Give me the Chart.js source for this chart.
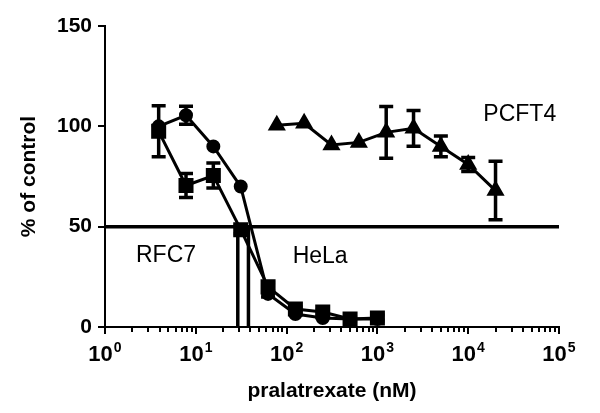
<!DOCTYPE html>
<html lang="en">
<head>
    <meta charset="UTF-8">
    <title>Pralatrexate dose response</title>
    <style>
        body { margin: 0; background: #fff; }
    </style>
</head>
<body>
    <canvas id="doseChart" width="600" height="413"></canvas>
    <script src="https://cdn.jsdelivr.net/npm/chart.js"></script>

    <script>
        // concentrations (nM)
        const concLow = [3.9, 7.8, 15.6, 31.25, 62.5, 125, 250, 500, 1000];
        const concPCFT = [78, 156, 312, 625, 1250, 2500, 5000, 10000, 20000];

        // % of control
        const rfc7Values = [97.5, 70.5, 75.5, 48.5, 20, 9, 7.5, 4, 4.5];
        const rfc7Err = [12.7, 6, 6.2, 2, 2, 1, 1, 1, 1.5];
        const helaValues = [100, 105.5, 90, 70, 16.5, 6.5, 4.5, 4, 4];
        const helaErr = [0, 4.5, 0, 0, 1.5, 0, 0, 0, 0];
        const pcftValues = [100.6, 101.5, 90.7, 92, 97, 99, 90, 81, 68];
        const pcftErr = [0, 0, 0, 0, 12.9, 8.9, 5.2, 3.5, 14.6];

        const halfLevel = 50;
        const ic50s = [29, 38];
        const yTicks = [0, 50, 100, 150];
        const decades = [0, 1, 2, 3, 4, 5];

        // where the series names sit (data coords)
        const labels = [
            { text: 'RFC7', x: 4.7, y: 35.5 },
            { text: 'HeLa', x: 234, y: 35 },
            { text: 'PCFT4', x: 37000, y: 105.6 }
        ];

        function pts(xs, ys) {
            return xs.map((x, i) => ({ x: x, y: ys[i] }));
        }

        const FONT = '"Liberation Sans", Arial, sans-serif';

        // error bars, decade labels, minor ticks, annotations
        const extras = {
            id: 'extras',
            afterDatasetsDraw(chart) {
                const ctx = chart.ctx;
                const xs = chart.scales.x, ys = chart.scales.y;
                ctx.save();
                ctx.strokeStyle = '#000';
                ctx.lineWidth = 3.5;
                const groups = [[concLow, rfc7Values, rfc7Err], [concLow, helaValues, helaErr], [concPCFT, pcftValues, pcftErr]];
                groups.forEach(g => {
                    g[0].forEach((c, i) => {
                        const e = g[2][i];
                        if (!e) return;
                        const px = xs.getPixelForValue(c);
                        const top = ys.getPixelForValue(g[1][i] + e);
                        const bot = ys.getPixelForValue(g[1][i] - e);
                        ctx.beginPath();
                        ctx.moveTo(px, top); ctx.lineTo(px, bot);
                        ctx.moveTo(px - 7, top); ctx.lineTo(px + 7, top);
                        ctx.moveTo(px - 7, bot); ctx.lineTo(px + 7, bot);
                        ctx.stroke();
                    });
                });
                ctx.restore();
            },
            afterDraw(chart) {
                const ctx = chart.ctx;
                const xs = chart.scales.x, ys = chart.scales.y;
                const bottom = chart.chartArea.bottom;
                ctx.save();
                ctx.strokeStyle = '#000';
                ctx.fillStyle = '#000';
                ctx.lineWidth = 2;
                // ticks on the log axis
                decades.forEach(d => {
                    for (let m = 1; m <= 9; m++) {
                        if (d === 5 && m > 1) break;
                        const px = Math.round(xs.getPixelForValue(m * Math.pow(10, d)));
                        ctx.beginPath();
                        ctx.moveTo(px, bottom);
                        ctx.lineTo(px, bottom + (m === 1 ? 7 : 5));
                        ctx.stroke();
                    }
                });
                // decade labels 10^n
                decades.forEach(d => {
                    const px = xs.getPixelForValue(Math.pow(10, d));
                    ctx.font = 'bold 22px ' + FONT;
                    const w1 = ctx.measureText('10').width;
                    ctx.font = 'bold 14px ' + FONT;
                    const w2 = ctx.measureText(String(d)).width;
                    const start = px - (w1 + w2 + 1) / 2;
                    ctx.textAlign = 'left';
                    ctx.textBaseline = 'alphabetic';
                    ctx.font = 'bold 22px ' + FONT;
                    ctx.fillText('10', start, 361);
                    ctx.font = 'bold 14px ' + FONT;
                    ctx.fillText(String(d), start + w1 + 1, 352);
                });
                // series names
                ctx.font = '23px ' + FONT;
                ctx.textAlign = 'center';
                ctx.textBaseline = 'middle';
                labels.forEach(l => {
                    ctx.fillText(l.text, xs.getPixelForValue(l.x), ys.getPixelForValue(l.y));
                });
                ctx.restore();
            }
        };

        const lineStyle = {
            showLine: true,
            borderColor: '#000',
            backgroundColor: '#000',
            pointBackgroundColor: '#000',
            pointBorderColor: '#000',
            borderWidth: 3
        };

        new Chart(document.getElementById('doseChart'), {
            type: 'scatter',
            data: {
                datasets: [
                    Object.assign({ label: 'RFC7', data: pts(concLow, rfc7Values), pointStyle: 'rect', pointRadius: 8.5 }, lineStyle),
                    Object.assign({ label: 'HeLa', data: pts(concLow, helaValues), pointStyle: 'circle', pointRadius: 5.5 }, lineStyle),
                    Object.assign({ label: 'PCFT4', data: pts(concPCFT, pcftValues), pointStyle: 'triangle', pointRadius: 7.5 }, lineStyle),
                    Object.assign({}, lineStyle, { label: '50%', data: [{ x: 1, y: halfLevel }, { x: 1e5, y: halfLevel }], pointRadius: 0, borderWidth: 3.5 }),
                    Object.assign({}, lineStyle, { label: 'IC50 a', data: [{ x: ic50s[0], y: halfLevel }, { x: ic50s[0], y: 0 }], pointRadius: 0, borderWidth: 3.5 }),
                    Object.assign({}, lineStyle, { label: 'IC50 b', data: [{ x: ic50s[1], y: halfLevel }, { x: ic50s[1], y: 0 }], pointRadius: 0, borderWidth: 3.5 })
                ]
            },
            options: {
                responsive: false,
                animation: false,
                layout: { padding: { top: 26, right: 41, left: 0, bottom: 0 } },
                plugins: {
                    legend: { display: false },
                    tooltip: { enabled: false }
                },
                scales: {
                    x: {
                        type: 'logarithmic',
                        min: 1,
                        max: 1e5,
                        grid: { display: false },
                        border: { display: true, color: '#000', width: 2 },
                        ticks: { display: false },
                        title: {
                            display: true,
                            text: 'pralatrexate (nM)',
                            color: '#000',
                            font: { family: FONT, size: 21, weight: 'bold' },
                            padding: { top: 0, bottom: 9 }
                        },
                        afterFit(scale) { scale.height = 86; }
                    },
                    y: {
                        min: 0,
                        max: 150,
                        afterBuildTicks(scale) { scale.ticks = yTicks.map(v => ({ value: v })); },
                        grid: { drawOnChartArea: false, drawTicks: true, tickLength: 7, color: '#000', lineWidth: 2 },
                        border: { display: true, color: '#000', width: 2 },
                        ticks: {
                            color: '#000',
                            padding: 6,
                            font: { family: FONT, size: 21, weight: 'bold' }
                        },
                        title: {
                            display: true,
                            text: '% of control',
                            color: '#000',
                            font: { family: FONT, size: 21, weight: 'bold' },
                            padding: { top: 17, bottom: 0 }
                        },
                        afterFit(scale) { scale.width = 105; }
                    }
                }
            },
            plugins: [extras]
        });
    </script>
</body>
</html>
